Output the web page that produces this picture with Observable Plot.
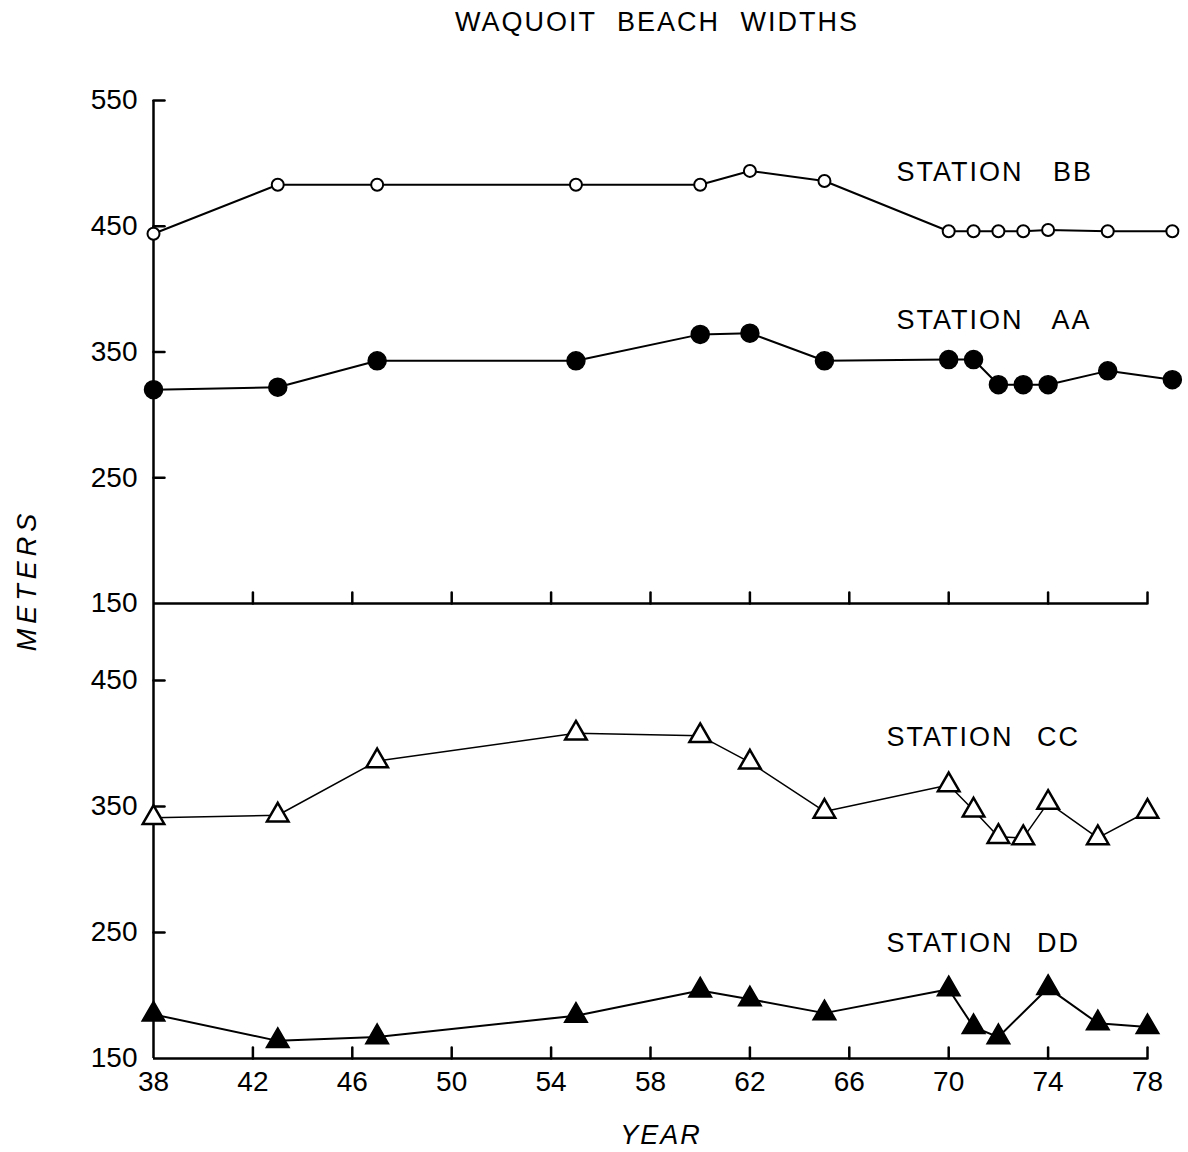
<!DOCTYPE html>
<html>
<head>
<meta charset="utf-8">
<script src="https://cdn.jsdelivr.net/npm/d3@7"></script>
<script src="https://cdn.jsdelivr.net/npm/@observablehq/plot@0.6"></script>
<style>
  html, body { margin: 0; padding: 0; background: #fff; }
  body { width: 1188px; height: 1152px; position: relative; overflow: hidden;
         font-family: "Liberation Sans", Arial, sans-serif; color: #000; }
  .abs { position: absolute; white-space: nowrap; line-height: 1; }
  #title { left: 657px; top: 22px; transform: translate(-50%, -50%);
           font-size: 27px; letter-spacing: 2px; word-spacing: 11px; }
  #ylab { left: 27px; top: 580px; transform: translate(-50%, -50%) rotate(-90deg);
          font-size: 27px; font-style: italic; letter-spacing: 5px; }
  #xlab { left: 661px; top: 1135px; transform: translate(-50%, -50%);
          font-size: 27px; font-style: italic; letter-spacing: 2px; }
  #top, #bottom { position: absolute; left: 0; }
  #top { top: 60px; }
  #bottom { top: 560px; }
  .station text { letter-spacing: 2px; word-spacing: 14px; }
  .stationwide text { letter-spacing: 2px; word-spacing: 20px; }
</style>
</head>
<body>
<div id="title" class="abs">WAQUOIT BEACH WIDTHS</div>
<div id="ylab" class="abs">METERS</div>
<div id="xlab" class="abs">YEAR</div>
<div id="top"></div>
<div id="bottom"></div>
<script>
// ---- data ----
const bbYears = [38, 43, 47, 55, 60, 62, 65, 70, 71, 72, 73, 74, 76.4, 79];
const bbWidth = [444, 483, 483, 483, 483, 494, 486, 446, 446, 446, 446, 447, 446, 446];
const aaYears = [38, 43, 47, 55, 60, 62, 65, 70, 71, 72, 73, 74, 76.4, 79];
const aaWidth = [320, 322, 343, 343, 364, 365, 343, 344, 344, 324, 324, 324, 335, 328];
const ccYears = [38, 43, 47, 55, 60, 62, 65, 70, 71, 72, 73, 74, 76, 78];
const ccWidth = [341, 343, 386, 408, 406, 385, 346, 367, 347, 326, 325, 353, 325, 346];
const ddYears = [38, 43, 47, 55, 60, 62, 65, 70, 71, 72, 74, 76, 78];
const ddWidth = [185, 164, 167, 184, 204, 197, 186, 205, 175, 167, 206, 178, 175];
const yearTicks = [38, 42, 46, 50, 54, 58, 62, 66, 70, 74, 78];
const topTicks = [150, 250, 350, 450, 550];
const bottomTicks = [150, 250, 350, 450];
const stationNames = ["STATION BB", "STATION AA", "STATION CC", "STATION DD"];

const rows = (xs, ys) => xs.map((x, i) => ({year: x, width: ys[i]}));
const bb = rows(bbYears, bbWidth);
const aa = rows(aaYears, aaWidth);
const cc = rows(ccYears, ccWidth);
const dd = rows(ddYears, ddWidth);

const tickUp = {draw(ctx, l) { ctx.moveTo(0, 0); ctx.lineTo(0, -l); }};
const tickRight = {draw(ctx, l) { ctx.moveTo(0, 0); ctx.lineTo(l, 0); }};

const font = "'Liberation Sans', Arial, sans-serif";
const common = {
  width: 1188, marginLeft: 153, marginRight: 41,
  x: {domain: [38, 78]},
  style: {fontFamily: font, fontSize: "28px", background: "transparent", overflow: "visible", color: "#000"}
};

const topPlot = Plot.plot({
  ...common,
  height: 548, marginTop: 40, marginBottom: 5,
  y: {domain: [150, 550]},
  marks: [
    Plot.ruleX([38], {y1: 150, y2: 550, strokeWidth: 2.5}),
    Plot.ruleY([150], {x1: 38, x2: 78, strokeWidth: 2.5}),
    Plot.vector(yearTicks.slice(1), {x: d => d, y: 150, length: 11, shape: tickUp, anchor: "start", strokeWidth: 2.5}),
    Plot.vector(topTicks.slice(1), {x: 38, y: d => d, length: 11, shape: tickRight, anchor: "start", strokeWidth: 2.5}),
    Plot.axisY({ticks: topTicks, tickSize: 0, tickPadding: 16, label: null, fontSize: 28}),
    Plot.axisX({ticks: [], label: null}),
    Plot.line(bb, {x: "year", y: "width", strokeWidth: 2}),
    Plot.dot(bb, {x: "year", y: "width", r: 6, fill: "white", stroke: "black", strokeWidth: 2}),
    Plot.line(aa, {x: "year", y: "width", strokeWidth: 2}),
    Plot.dot(aa, {x: "year", y: "width", r: 9, fill: "black", stroke: "black"}),
    Plot.text([stationNames[0]], {x: 67.9, y: 493, text: d => d, textAnchor: "start", fontSize: 27, className: "stationwide"}),
    Plot.text([stationNames[1]], {x: 67.9, y: 375, text: d => d, textAnchor: "start", fontSize: 27, className: "stationwide"})
  ]
});
document.getElementById("top").append(topPlot);

const bottomPlot = Plot.plot({
  ...common,
  height: 592, marginTop: 43, marginBottom: 94,
  y: {domain: [150, 511]},
  marks: [
    Plot.ruleX([38], {y1: 150, y2: 511, strokeWidth: 2.5}),
    Plot.ruleY([150], {x1: 38, x2: 78, strokeWidth: 2.5}),
    Plot.vector(yearTicks.slice(1), {x: d => d, y: 150, length: 11, shape: tickUp, anchor: "start", strokeWidth: 2.5}),
    Plot.vector(bottomTicks.slice(1), {x: 38, y: d => d, length: 11, shape: tickRight, anchor: "start", strokeWidth: 2.5}),
    Plot.axisY({ticks: bottomTicks, tickSize: 0, tickPadding: 16, label: null, fontSize: 28}),
    Plot.axisX({ticks: yearTicks, tickSize: 0, tickPadding: 13, label: null, fontSize: 28}),
    Plot.line(cc, {x: "year", y: "width", strokeWidth: 1.5}),
    Plot.dot(cc, {x: "year", y: "width", symbol: "triangle", r: 8, fill: "white", stroke: "black", strokeWidth: 2.5}),
    Plot.line(dd, {x: "year", y: "width", strokeWidth: 2}),
    Plot.dot(dd, {x: "year", y: "width", symbol: "triangle", r: 8.5, fill: "black", stroke: "black"}),
    Plot.text([stationNames[2]], {x: 67.5, y: 405, text: d => d, textAnchor: "start", fontSize: 27, className: "station"}),
    Plot.text([stationNames[3]], {x: 67.5, y: 241, text: d => d, textAnchor: "start", fontSize: 27, className: "station"})
  ]
});
document.getElementById("bottom").append(bottomPlot);
</script>
</body>
</html>
